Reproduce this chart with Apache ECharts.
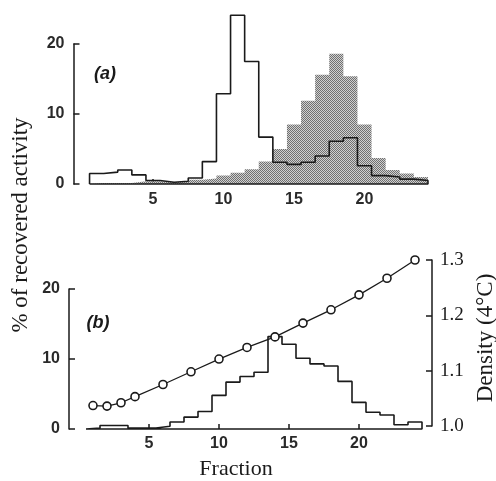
<!DOCTYPE html>
<html><head><meta charset="utf-8">
<script src="https://cdn.jsdelivr.net/npm/echarts@6/dist/echarts.min.js"></script>
<style>html,body{margin:0;padding:0;background:#fff}#c{width:496px;height:481px}</style>
</head><body><div id="c"></div>
<script>
// Fractions 1..24
const fractions = [1,2,3,4,5,6,7,8,9,10,11,12,13,14,15,16,17,18,19,20,21,22,23,24];
// Panel (a): open histogram (% of recovered activity)
const openA = [1.5,1.7,2.0,1.3,0.5,0.25,0.4,0.85,3.2,12.9,24.1,17.5,6.7,3.1,2.8,3.1,4.0,6.1,6.6,2.6,1.2,1.0,0.7,0.5];
// Panel (a): shaded histogram
const shadedA = [0.15,0.15,0.15,0.4,0.4,0.3,0.3,0.6,0.8,1.2,1.6,2.1,3.2,5.0,8.5,11.9,15.6,18.6,15.4,8.5,3.7,2.0,1.5,1.0];
// Panel (b): histogram
const histB = [0.15,0.5,0.5,0.15,0.15,0.4,1.0,1.7,2.5,4.8,6.7,7.5,8.1,13.2,12.1,10.1,9.3,9.0,6.8,3.8,2.4,2.0,0.6,1.0];
// Panel (b): density (4°C)
const densityFractions = [1,2,3,4,6,8,10,12,14,16,18,20,22,24];
const densityValues = [1.037,1.036,1.042,1.053,1.075,1.098,1.121,1.142,1.161,1.186,1.210,1.237,1.267,1.300];
// Tick labels
const xTicks = [5,10,15,20];
const yTicksPct = [0,10,20];
const yTicksDensity = [1.0,1.1,1.2,1.3];

function stepPts(vals, close) {
  const pts = [[fractions[0]-0.5, 0]];
  vals.forEach((v,i)=>{ pts.push([fractions[i]-0.5, v]); pts.push([fractions[i]+0.5, v]); });
  pts.push([fractions[fractions.length-1]+0.5, 0]);
  if (close) pts.push([fractions[0]-0.5, 0]);
  return pts;
}

// stipple pattern
const pc = document.createElement('canvas');
pc.width = 2; pc.height = 2;
const pctx = pc.getContext('2d');
pctx.fillStyle = '#d0d0d0'; pctx.fillRect(0,0,2,2);
pctx.fillStyle = '#707070'; pctx.fillRect(0,0,1,1); pctx.fillRect(1,1,1,1);

const INK = '#1a1a1a';
const tickFont = {fontFamily:'Liberation Sans', fontSize:16, fontWeight:'bold', color:'#2a2a2a'};
const serif = 'Liberation Serif';

const chart = echarts.init(document.getElementById('c'), null, {renderer:'canvas'});
chart.setOption({
  animation:false,
  backgroundColor:'#fff',
  grid:[
    {left:82.5, width:352.5, top:44, height:140},
    {left:79, width:350, top:289, height:140},
    {left:79, width:350, top:260, height:166}
  ],
  xAxis:[
    {gridIndex:0, type:'value', min:0, max:25,
      axisLine:{show:false}, splitLine:{show:false},
      axisTick:{show:true, inside:true, length:5, customValues:xTicks, lineStyle:{color:INK,width:1.5}},
      axisLabel:Object.assign({customValues:xTicks, margin:8}, tickFont)},
    {gridIndex:1, type:'value', min:0, max:25,
      axisLine:{show:false}, splitLine:{show:false},
      axisTick:{show:true, inside:true, length:5, customValues:xTicks, lineStyle:{color:INK,width:1.5}},
      axisLabel:Object.assign({customValues:xTicks, margin:7}, tickFont)},
    {gridIndex:2, type:'value', min:0, max:25, show:false}
  ],
  yAxis:[
    {gridIndex:0, type:'value', min:0, max:20, interval:10, offset:9,
      axisLine:{show:true, onZero:false, lineStyle:{color:INK,width:1.5}}, splitLine:{show:false},
      axisTick:{show:true, inside:true, length:6, lineStyle:{color:INK,width:1.5}},
      axisLabel:Object.assign({margin:9}, tickFont)},
    {gridIndex:1, type:'value', min:0, max:20, interval:10, offset:10,
      axisLine:{show:true, onZero:false, lineStyle:{color:INK,width:1.5}}, splitLine:{show:false},
      axisTick:{show:true, inside:true, length:6, lineStyle:{color:INK,width:1.5}},
      axisLabel:Object.assign({margin:9}, tickFont)},
    {gridIndex:2, type:'value', position:'right', min:1.0, max:1.3, interval:0.1, offset:3,
      axisLine:{show:true, onZero:false, lineStyle:{color:INK,width:1.5}}, splitLine:{show:false},
      axisTick:{show:true, inside:true, length:6, lineStyle:{color:INK,width:1.5}},
      axisLabel:{margin:8, fontFamily:serif, fontSize:19, color:INK, formatter:v=>v.toFixed(1)}}
  ],
  series:[
    {type:'line', xAxisIndex:0, yAxisIndex:0, data:stepPts(shadedA,false), showSymbol:false, symbol:'none',
      lineStyle:{width:0}, areaStyle:{color:{image:pc, repeat:'repeat'}, opacity:1}, z:2, clip:false},
    {type:'line', xAxisIndex:0, yAxisIndex:0, data:stepPts(openA,true), showSymbol:false, symbol:'none',
      lineStyle:{color:INK, width:1.6}, z:3, clip:false},
    {type:'line', xAxisIndex:1, yAxisIndex:1, data:stepPts(histB,true), showSymbol:false, symbol:'none',
      lineStyle:{color:INK, width:1.6}, z:3, clip:false},
    {type:'line', xAxisIndex:2, yAxisIndex:2, data:densityFractions.map((f,i)=>[f,densityValues[i]]),
      symbol:'circle', symbolSize:8, showSymbol:true,
      itemStyle:{color:'#fff', borderColor:INK, borderWidth:1.6},
      lineStyle:{color:INK, width:1.3}, z:4, clip:false}
  ],
  graphic:[
    {type:'text', x:105, y:74, style:{text:'(a)', font:'italic bold 18px "Liberation Sans"', fill:INK, textAlign:'center', textVerticalAlign:'middle'}},
    {type:'text', x:98, y:323, style:{text:'(b)', font:'italic bold 18px "Liberation Sans"', fill:INK, textAlign:'center', textVerticalAlign:'middle'}},
    {type:'text', x:21, y:225, rotation:Math.PI/2, style:{text:'% of recovered activity', font:'23px "Liberation Serif"', fill:INK, textAlign:'center', textVerticalAlign:'middle'}},
    {type:'text', x:486, y:338, rotation:Math.PI/2, style:{text:'Density (4°C)', font:'23px "Liberation Serif"', fill:INK, textAlign:'center', textVerticalAlign:'middle'}},
    {type:'text', x:236, y:469, style:{text:'Fraction', font:'22px "Liberation Serif"', fill:INK, textAlign:'center', textVerticalAlign:'middle'}}
  ]
});
</script></body></html>
